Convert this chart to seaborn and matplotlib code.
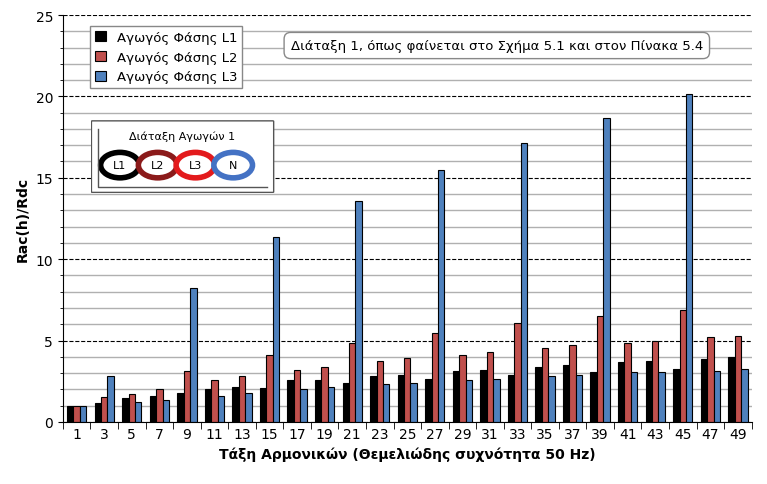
import matplotlib
matplotlib.use("Agg")
import matplotlib.pyplot as plt
import seaborn as sns
import pandas as pd
import numpy as np
from matplotlib.patches import Circle, FancyBboxPatch

harmonics = list(range(1, 50, 2))
l1 = [1,1.15,1.45,1.6,1.75,2.0,2.15,2.1,2.55,2.6,2.4,2.8,2.9,2.65,3.1,3.2,2.9,3.4,3.5,3.05,3.7,3.75,3.25,3.85,4.0]
l2 = [1,1.55,1.7,2.0,3.1,2.6,2.8,4.1,3.2,3.4,4.85,3.75,3.9,5.45,4.1,4.3,6.05,4.55,4.7,6.5,4.85,5.0,6.9,5.2,5.25]
l3 = [1,2.85,1.2,1.35,8.25,1.6,1.75,11.35,2.0,2.15,13.6,2.3,2.4,15.5,2.6,2.65,17.15,2.8,2.9,18.7,3.05,3.05,20.15,3.15,3.25]
names = ["Αγωγός Φάσης L1", "Αγωγός Φάσης L2", "Αγωγός Φάσης L3"]
colors = ["#000000", "#C0504D", "#4F81BD"]

df = pd.DataFrame({"h": harmonics * 3, "v": l1 + l2 + l3,
                   "s": [names[0]] * 25 + [names[1]] * 25 + [names[2]] * 25})

fig, ax = plt.subplots(figsize=(7.67, 4.85), dpi=100)
fig.subplots_adjust(left=0.082, right=0.98, top=0.967, bottom=0.128)
ax.set_axisbelow(True)
ax.set_yticks(np.arange(0, 26, 1), minor=True)
ax.grid(axis="y", which="minor", color="#b0b0b0", lw=1)
ax.grid(axis="y", which="major", color="black", ls="--", lw=0.8)
sns.barplot(data=df, x="h", y="v", hue="s", palette=colors, ax=ax,
            width=0.7, edgecolor="black", linewidth=0.8, saturation=1)
ax.set_ylim(0, 25)
ax.set_yticks(range(0, 26, 5))
ax.set_xlim(-0.5, 24.5)
ax.tick_params(axis="x", length=0)
ax.set_xticks(np.arange(-0.5, 25, 1), minor=True)
ax.tick_params(axis="x", which="minor", length=5, direction="out")
ax.tick_params(labelsize=10)
ax.set_xlabel("Τάξη Αρμονικών (Θεμελιώδης συχνότητα 50 Hz)", fontweight="bold", fontsize=10)
ax.set_ylabel("Rac(h)/Rdc", fontweight="bold", fontsize=10)
for s in ["top", "right"]:
    ax.spines[s].set_visible(False)
ax.legend(loc="upper left", bbox_to_anchor=(0.03, 0.99), fontsize=9.5, frameon=True,
          framealpha=1, edgecolor="#888888", fancybox=False, handlelength=0.8,
          handleheight=0.8)
ax.text(0.63, 0.925, "Διάταξη 1, όπως φαίνεται στο Σχήμα 5.1 και στον Πίνακα 5.4",
        transform=ax.transAxes, ha="center", va="center", fontsize=9.5,
        bbox=dict(boxstyle="round,pad=0.5", fc="white", ec="#888888"))
# inset schematic
ia = fig.add_axes([0.118, 0.60, 0.24, 0.15])
ia.set_xlim(0, 10); ia.set_ylim(0, 6); ia.axis("off")
ia.add_patch(FancyBboxPatch((0.1, 0.1), 9.8, 5.8, boxstyle="round,pad=0.05", fc="white", ec="#555555"))
ia.text(5, 4.7, "Διάταξη Αγωγών 1", ha="center", va="center", fontsize=8)
ia.plot([0.4, 0.4, 9.6], [5.3, 0.5, 0.5], color="#555555", lw=1)
ring = ["black", "#8B1A1A", "#E31A1C", "#4472C4"]
labs = ["L1", "L2", "L3", "N"]
for i, (c, lab) in enumerate(zip(ring, labs)):
    cx = 1.6 + i * 2.05
    ia.add_patch(Circle((cx, 2.3), 1.05, fc="white", ec=c, lw=4))
    ia.text(cx, 2.3, lab, ha="center", va="center", fontsize=8)
fig.savefig("out.png", dpi=100)
